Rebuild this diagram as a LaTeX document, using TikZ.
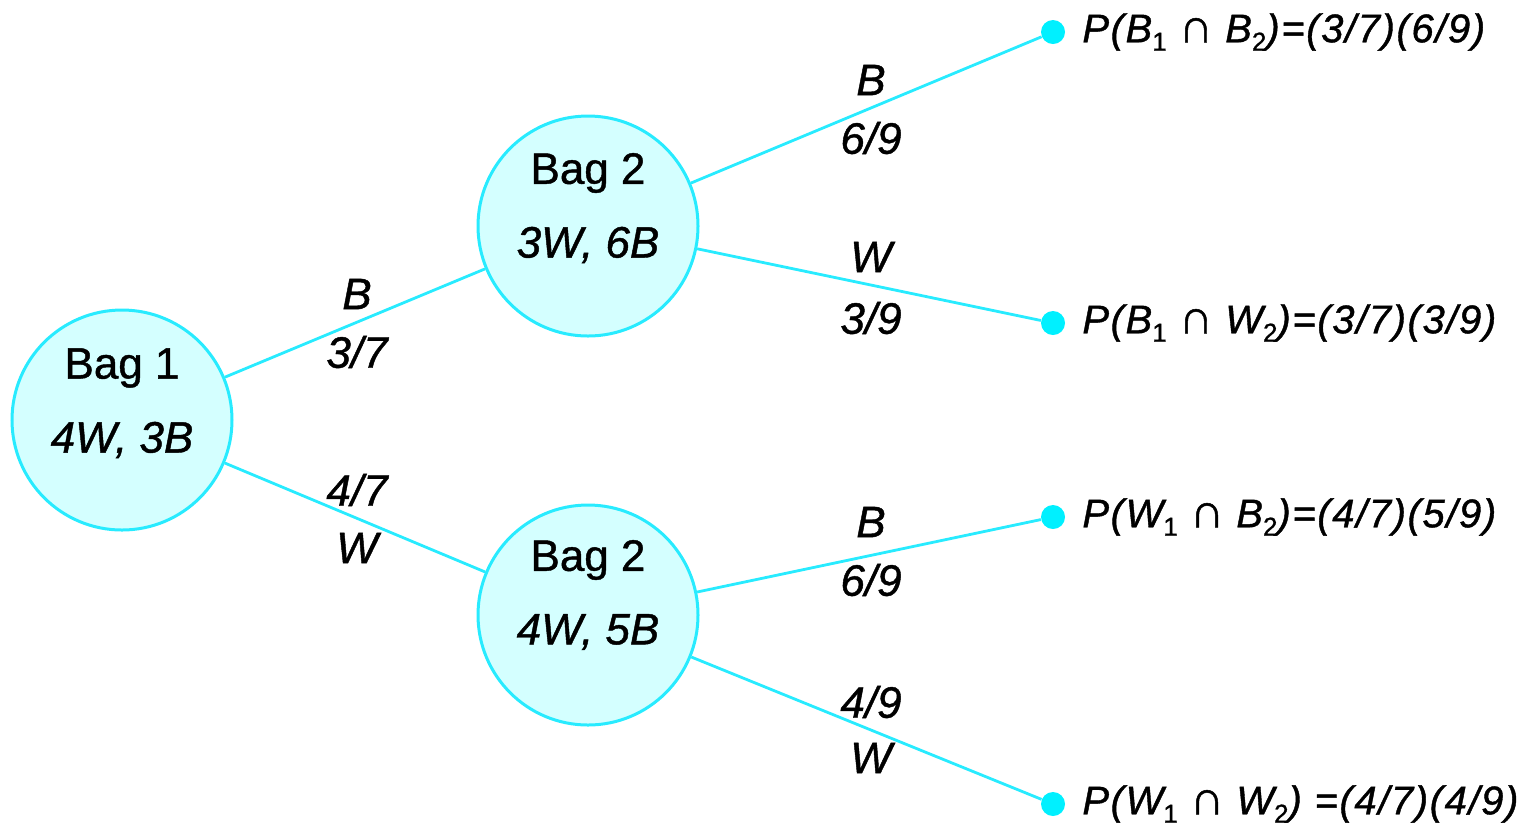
\documentclass[tikz,border=0pt]{standalone}
\usepackage{fontspec}
\setmainfont[FakeBold=1.0]{Liberation Sans}
\setsansfont{Liberation Sans}
\newfontfamily\resfont[FakeBold=1.0,LetterSpace=4]{Liberation Sans}
\definecolor{cy}{RGB}{40,235,255}
\definecolor{dotc}{RGB}{0,240,255}
\definecolor{cyfill}{RGB}{212,255,255}
\newcommand{\sbs}[1]{\raisebox{-0.4ex}{\upshape\fontsize{13}{13}\selectfont #1}}
\newcommand{\capx}{\hspace{0.3em}{\upshape\fontsize{24}{24}\selectfont ∩}\hspace{0.3em}}
\begin{document}
\begin{tikzpicture}[x=0.5pt,y=-0.5pt,
  bag/.style={circle,draw=cy,fill=cyfill,line width=1.5pt,minimum size=110pt,inner sep=0pt},
  leaf/.style={circle,fill=dotc,minimum size=12pt,inner sep=0pt},
  conn/.style={draw=cy,line width=1.4pt},
  bagtxt/.style={font=\fontsize{22}{24}\selectfont},
  baginf/.style={font=\fontsize{22}{24}\selectfont\itshape},
  elab/.style={font=\fontsize{22}{24}\selectfont\itshape},
  res/.style={font=\resfont\fontsize{20}{22}\selectfont\itshape,anchor=west,inner sep=0pt}]
\useasboundingbox (0,0) rectangle (1524,827);
\node[bag] (b1) at (122,420) {};
\node[bag] (b2t) at (588,226) {};
\node[bag] (b2b) at (588,615) {};
\node[bagtxt] (t1) at (122,368) {Bag 1};
\node[baginf] (i1) at (122,440) {4W, 3B};
\node[bagtxt] (t2) at (588,173) {Bag 2};
\node[baginf] (i2) at (588,245) {3W, 6B};
\node[bagtxt] (t3) at (588,560) {Bag 2};
\node[baginf] (i3) at (588,632) {4W, 5B};
\node[leaf] (l1) at (1053,32) {};
\node[leaf] (l2) at (1053,323) {};
\node[leaf] (l3) at (1053,517) {};
\node[leaf] (l4) at (1053,804) {};
\draw[conn] (b1) -- (b2t);
\draw[conn] (b1) -- (b2b);
\draw[conn] (b2t) -- (l1);
\draw[conn] (b2t) -- (l2);
\draw[conn] (b2b) -- (l3);
\draw[conn] (b2b) -- (l4);
\node[elab] (e1) at (357,294) {B};
\node[elab] (e2) at (357,352) {3/7};
\node[elab] (e3) at (357,490) {4/7};
\node[elab] (e4) at (357,548) {W};
\node[elab] (e5) at (871,80) {B};
\node[elab] (e6) at (871,138) {6/9};
\node[elab] (e7) at (871,257) {W};
\node[elab] (e8) at (871,318) {3/9};
\node[elab] (e9) at (871,522) {B};
\node[elab] (e10) at (871,580) {6/9};
\node[elab] (e11) at (871,702) {4/9};
\node[elab] (e12) at (871,758) {W};
\node[res] (r1) at (1082,32) {P(B\sbs{1}\capx B\sbs{2})=(3/7)(6/9)};
\node[res] (r2) at (1082,323) {P(B\sbs{1}\capx W\sbs{2})=(3/7)(3/9)};
\node[res] (r3) at (1082,517) {P(W\sbs{1}\capx B\sbs{2})=(4/7)(5/9)};
\node[res] (r4) at (1082,804) {P(W\sbs{1}\capx W\sbs{2}) =(4/7)(4/9)};
\end{tikzpicture}
\end{document}
